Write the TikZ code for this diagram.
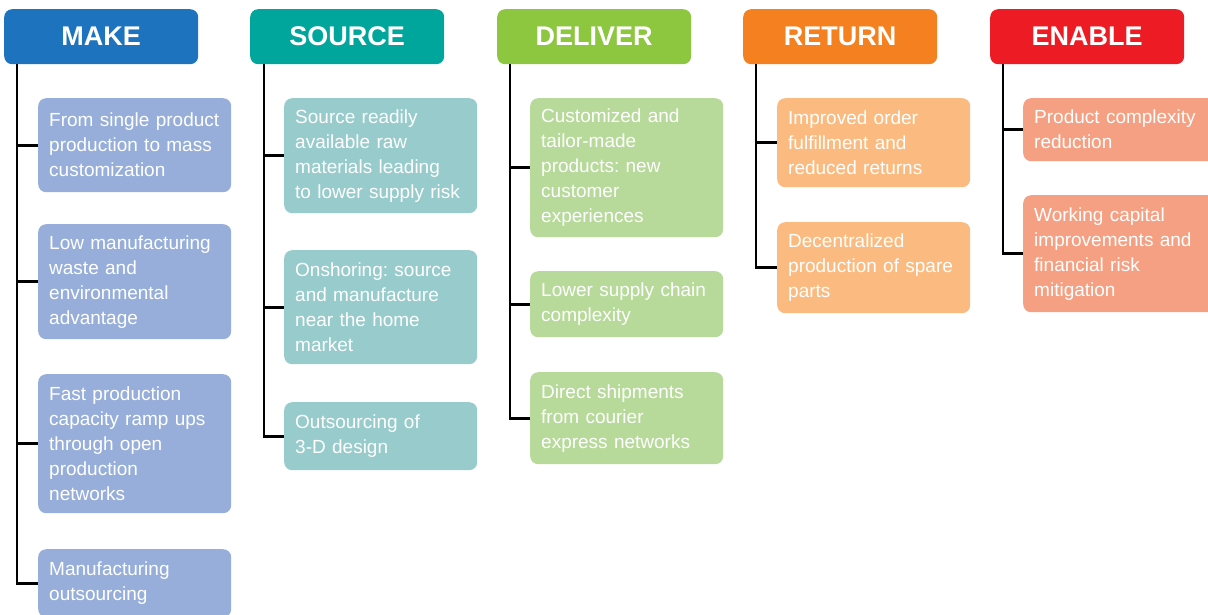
\documentclass[tikz,border=0pt]{standalone}
\usepackage{fontspec}
\setmainfont{Liberation Sans}
\frenchspacing
\definecolor{mkH}{RGB}{30,115,190}
\definecolor{srH}{RGB}{0,166,156}
\definecolor{dlH}{RGB}{141,198,63}
\definecolor{rtH}{RGB}{244,128,32}
\definecolor{enH}{RGB}{237,28,36}
\definecolor{mkB}{RGB}{150,174,217}
\definecolor{srB}{RGB}{152,203,203}
\definecolor{dlB}{RGB}{183,218,155}
\definecolor{rtB}{RGB}{251,187,128}
\definecolor{enB}{RGB}{245,160,130}
\tikzset{
  hdr/.style={rounded corners=8pt, minimum width=194pt, minimum height=55pt, anchor=north west,
    text=white, font=\fontsize{27}{30}\selectfont\bfseries, inner sep=0pt},
  leaf/.style={rounded corners=8pt, minimum width=193pt, anchor=north west, text=white,
    font=\fontsize{19}{25}\selectfont\frenchspacing, align=left, text width=171pt, inner xsep=11pt, inner ysep=0pt},
  conn/.style={line width=2.8pt, black}
}
\begin{document}
\begin{tikzpicture}[x=1pt,y=-1pt]
\useasboundingbox (0,0) rectangle (1208,614);
\clip (0,0) rectangle (1208,614);
% headers
\node[hdr, fill=mkH] (hm) at (4,9) {MAKE};
\node[hdr, fill=srH] (hs) at (250,9) {SOURCE};
\node[hdr, fill=dlH] (hd) at (497,9) {DELIVER};
\node[hdr, fill=rtH] (hr) at (743,9) {RETURN};
\node[hdr, fill=enH] (he) at (990,9) {ENABLE};
% tree tops
\coordinate (tm) at (17,64);
\coordinate (ts) at (264,64);
\coordinate (td) at (510,64);
\coordinate (tr) at (756,64);
\coordinate (te) at (1003,64);
% MAKE
\node[leaf, fill=mkB, minimum height=94pt] (m1) at (38,98) {From single product\\production to mass\\customization};
\node[leaf, fill=mkB, minimum height=115pt] (m2) at (38,224) {Low manufacturing\\waste and\\environmental\\advantage};
\node[leaf, fill=mkB, minimum height=139pt] (m3) at (38,374) {Fast production\\capacity ramp ups\\through open\\production\\networks};
\node[leaf, fill=mkB, minimum height=68pt] (m4) at (38,549) {Manufacturing\\outsourcing};
% SOURCE
\node[leaf, fill=srB, minimum height=115pt] (s1) at (284,98) {Source readily\\available raw\\materials leading\\to lower supply risk};
\node[leaf, fill=srB, minimum height=114pt] (s2) at (284,250) {Onshoring: source\\and manufacture\\near the home\\market};
\node[leaf, fill=srB, minimum height=68pt] (s3) at (284,402) {Outsourcing of\\3-D design};
% DELIVER
\node[leaf, fill=dlB, minimum height=139pt] (d1) at (530,98) {Customized and\\tailor-made\\products: new\\customer\\experiences};
\node[leaf, fill=dlB, minimum height=66pt] (d2) at (530,271) {Lower supply chain\\complexity};
\node[leaf, fill=dlB, minimum height=92pt] (d3) at (530,372) {Direct shipments\\from courier\\express networks};
% RETURN
\node[leaf, fill=rtB, minimum height=89pt] (r1) at (777,98) {Improved order\\fulfillment and\\reduced returns};
\node[leaf, fill=rtB, minimum height=91pt] (r2) at (777,222) {Decentralized\\production of spare\\parts};
% ENABLE
\node[leaf, fill=enB, minimum height=63pt] (e1) at (1023,98) {Product complexity\\reduction};
\node[leaf, fill=enB, minimum height=117pt] (e2) at (1023,195) {Working capital\\improvements and\\financial risk\\mitigation};
% connectors
\foreach \t/\b in {tm/m1,tm/m2,tm/m3,tm/m4,ts/s1,ts/s2,ts/s3,td/d1,td/d2,td/d3,tr/r1,tr/r2,te/e1,te/e2}
  \draw[conn] (\t) |- (\b.west);
\end{tikzpicture}
\end{document}
